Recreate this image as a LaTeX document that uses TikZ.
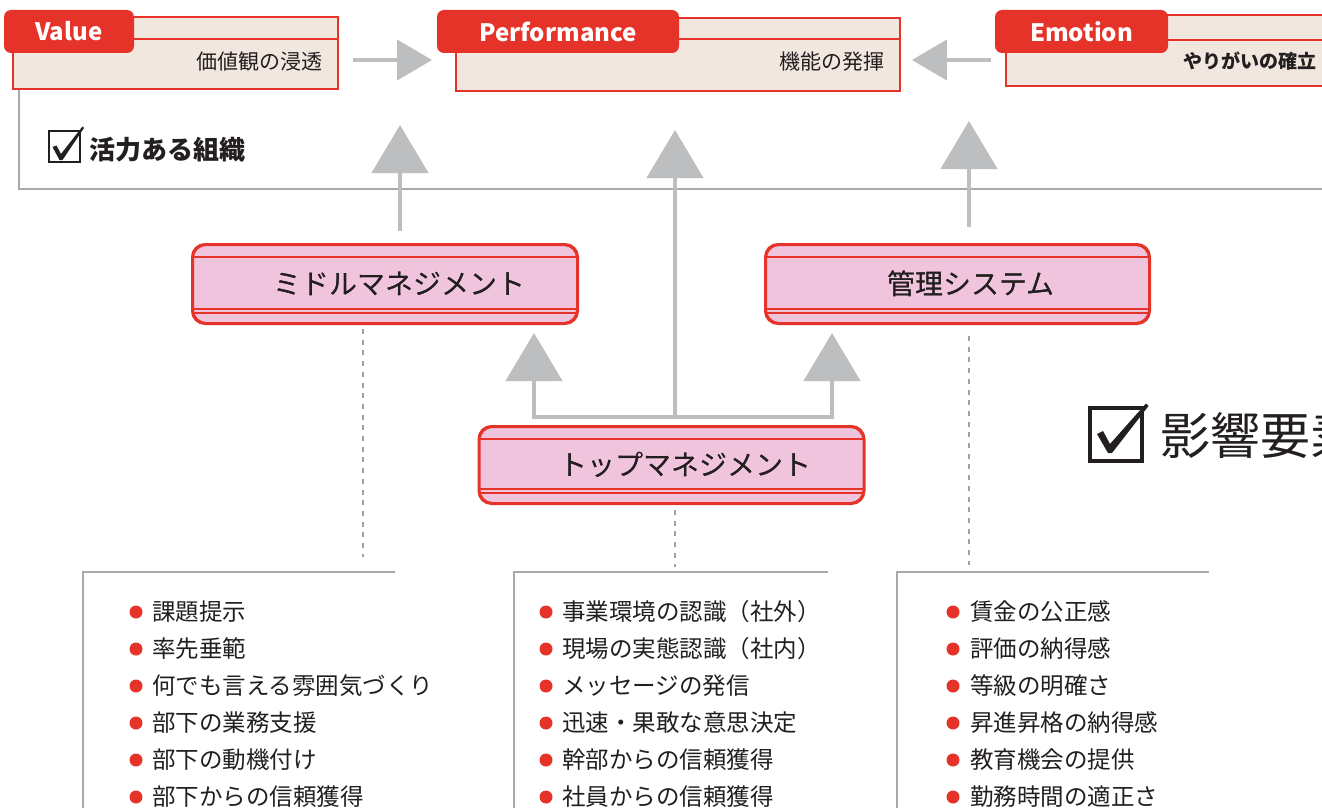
\documentclass[tikz,border=0pt]{standalone}
\usepackage{fontspec}
\setmainfont{Noto Sans CJK JP}
\usetikzlibrary{arrows.meta}
\definecolor{tabred}{HTML}{E5332A}
\definecolor{beige}{HTML}{F1E7DF}
\definecolor{pinkfill}{HTML}{F0C4DC}
\definecolor{arrowgray}{HTML}{BCBEC0}
\definecolor{framegray}{HTML}{A7A9AC}
\definecolor{dotgray}{HTML}{9FA1A4}
\definecolor{txt}{HTML}{231F20}
\begin{document}
\begin{tikzpicture}[x=1pt,y=-1pt,
  topbox/.style={draw=tabred, line width=1.8pt, fill=beige, inner sep=0pt, rectangle},
  tabbox/.style={fill=tabred, rounded corners=7pt, inner sep=0pt, text=white, font=\bfseries\fontsize{24}{28}\selectfont, minimum height=43pt},
  subtxt/.style={text=txt, font=\fontsize{21}{24}\selectfont, inner sep=0pt, anchor=east},
  pinkbox/.style={draw=tabred, line width=2pt, fill=pinkfill, rounded corners=13pt, minimum width=384pt, minimum height=78pt, inner sep=0pt, text=txt, font=\fontsize{28}{32}\selectfont},
  innerl/.style={draw=tabred, line width=1.3pt},
  garrow/.style={draw=arrowgray, line width=4.5pt, -{Triangle[length=48pt,width=56pt]}},
  harrow/.style={draw=arrowgray, line width=4pt, -{Triangle[length=35pt,width=40pt]}},
  framel/.style={draw=framegray, line width=2.5pt},
  dotl/.style={draw=dotgray, line width=2.8pt, dash pattern=on 5pt off 5.7pt},
  listl/.style={draw=framegray, line width=2pt},
  listitem/.style={text=txt, font=\fontsize{23.5}{28}\selectfont, inner sep=0pt, anchor=west},
  bulletdot/.style={fill=tabred}
]
\useasboundingbox (0,0) rectangle (1322,808);
\clip (0,0) rectangle (1322,808);
\fill[white] (0,0) rectangle (1322,808);

% ---- frame from Value box
\node[topbox, minimum width=325pt, minimum height=72pt] (valbox) at (175.5,53) {};
\draw[framel] ([xshift=7pt]valbox.south west) |- (1335,189);

% ---- top boxes
\node[topbox, minimum width=325pt, minimum height=72pt] (valbox2) at (175.5,53) {};
\draw[innerl] (130,39) -- (valbox2.east |- 0,39);
\node[tabbox, minimum width=130pt] (valtab) at (69,31.5) {Value};
\node[subtxt] (valsub) at (323,62) {価値観の浸透};

\node[topbox, minimum width=444pt, minimum height=73pt] (perfbox) at (678,54.5) {};
\draw[innerl] (675,39) -- (perfbox.east |- 0,39);
\node[tabbox, minimum width=242pt] (perftab) at (558,31.5) {Performance};
\node[subtxt] (perfsub) at (885,62) {機能の発揮};

\node[topbox, minimum width=334pt, minimum height=71pt] (emobox) at (1173,50.5) {};
\draw[innerl] (1165,40) -- (emobox.east |- 0,40);
\node[tabbox, minimum width=173pt] (emotab) at (1081.5,31.5) {Emotion};
\node[subtxt, font=\bfseries\fontsize{19}{22}\selectfont] (emosub) at (1317,61) {やりがいの確立};

% ---- horizontal arrows
\draw[harrow] ([xshift=14pt]valbox2.east |- 0,60) -- ([xshift=-23pt]perfbox.west |- 0,60);
\draw[harrow] ([xshift=-14pt]emobox.west |- 0,60) -- ([xshift=11pt]perfbox.east |- 0,60);

% ---- checkbox + 活力ある組織
\draw[txt, line width=2.2pt] (49,131) rectangle (80,162);
\fill[txt] (52.5,147) -- (56.5,145.5) -- (61,154) -- (82.5,126.5) -- (84,128) -- (62.5,160) -- (59.5,160) -- cycle;
\node[text=txt, font=\bfseries\fontsize{26}{30}\selectfont, inner sep=0pt, anchor=west] (vital) at (89,150) {活力ある組織};

% ---- pink boxes
\node[pinkbox] (mm) at (385,284) {\hspace*{28pt}ミドルマネジメント};
\node[pinkbox, minimum width=383pt] (ms) at (957.5,284) {\hspace*{27pt}管理システム};
\node[pinkbox, minimum height=76pt] (tm) at (671.5,465) {\hspace*{28pt}トップマネジメント};
\foreach \n in {mm,ms,tm}{
  \draw[innerl] ([yshift=-13pt]\n.north west) -- ([yshift=-13pt]\n.north east);
  \draw[innerl] ([yshift=15pt]\n.south west) -- ([yshift=15pt]\n.south east);
  \draw[draw=tabred, line width=2.8pt] ([yshift=11pt]\n.south west) -- ([yshift=11pt]\n.south east);
  \draw[draw=tabred, line width=2pt, rounded corners=13pt] (\n.north west) rectangle (\n.south east);
}
\node[pinkbox, fill=none, draw=none] at (385,284) {\hspace*{28pt}ミドルマネジメント};
\node[pinkbox, fill=none, draw=none, minimum width=383pt] at (957.5,284) {\hspace*{27pt}管理システム};
\node[pinkbox, fill=none, draw=none, minimum height=76pt] at (671.5,465) {\hspace*{28pt}トップマネジメント};

% ---- up arrows
\coordinate (tipL) at (400,125);
\coordinate (tipM) at (675,130);
\coordinate (tipR) at (969,121);
\draw[garrow] ([xshift=15pt,yshift=13pt]mm.north) -- (tipL);
\draw[garrow] ([xshift=11.5pt,yshift=17pt]ms.north) -- (tipR);
\coordinate (br) at ([xshift=3.5pt,yshift=9pt]tm.north);
\coordinate (tipBL) at (534,333);
\coordinate (tipBR) at (832,333);
\draw[garrow] (br) -| (tipBL);
\draw[garrow] (br) -| (tipBR);
\draw[garrow] (br) -- (tipM);

% ---- bottom lists
\coordinate (lTL) at (83,572);
\coordinate (mTL) at (514,572);
\coordinate (rTL) at (897,572);
\draw[listl] (395,572) -- (lTL) -- (83,820);
\draw[listl] (828,572) -- (mTL) -- (514,820);
\draw[listl] (1209,572) -- (rTL) -- (897,820);

\draw[dotl] ([xshift=-22pt,yshift=-5pt]mm.south) -- ([xshift=280pt,yshift=15pt]lTL);
\draw[dotl] ([xshift=3.5pt,yshift=-6pt]tm.south) -- ([xshift=161pt,yshift=5pt]mTL);
\draw[dotl] ([xshift=11.5pt,yshift=-12pt]ms.south) -- ([xshift=72pt,yshift=7pt]rTL);

\foreach \t [count=\i] in {課題提示,率先垂範,何でも言える雰囲気づくり,部下の業務支援,部下の動機付け,部下からの信頼獲得}{
  \fill[bulletdot] (136,{612+(\i-1)*37}) circle (6.5pt);
  \node[listitem] (L\i) at (152,{612+(\i-1)*37}) {\t};
}
\foreach \t [count=\i] in {事業環境の認識（社外）,現場の実態認識（社内）,メッセージの発信,迅速・果敢な意思決定,幹部からの信頼獲得,社員からの信頼獲得}{
  \fill[bulletdot] (546,{612+(\i-1)*37}) circle (6.5pt);
  \node[listitem] (M\i) at (562,{612+(\i-1)*37}) {\t};
}
\foreach \t [count=\i] in {賃金の公正感,評価の納得感,等級の明確さ,昇進昇格の納得感,教育機会の提供,勤務時間の適正さ}{
  \fill[bulletdot] (953,{612+(\i-1)*37}) circle (6.5pt);
  \node[listitem] (R\i) at (970,{612+(\i-1)*37}) {\t};
}

% ---- 影響要素
\draw[txt, line width=3.5pt] (1090,408) rectangle (1142,461);
\fill[txt] (1097,434) -- (1103,431) -- (1110,444) -- (1146,403.5) -- (1148.5,406) -- (1112,453) -- (1108,453) -- cycle;
\node[text=txt, font=\fontsize{50}{56}\selectfont, inner sep=0pt, anchor=west] (infl) at (1160,436) {影響要素};
\end{tikzpicture}
\end{document}
